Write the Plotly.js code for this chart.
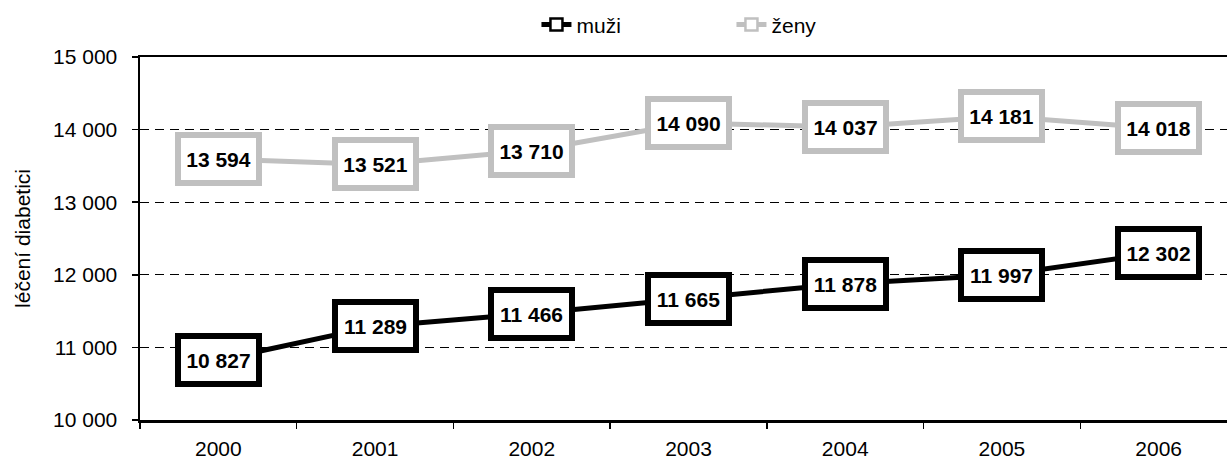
<!DOCTYPE html>
<html>
<head>
<meta charset="utf-8">
<script src="https://cdn.plot.ly/plotly-3.0.1.min.js"></script>
<style>
html,body{margin:0;padding:0;overflow:hidden;background:#fff;width:1227px;height:460px;}
#chart{width:1245px;height:460px;}
</style>
</head>
<body>
<div id="chart"></div>
<script>
const years = ["2000","2001","2002","2003","2004","2005","2006"];
const muzi = [10827, 11289, 11466, 11665, 11878, 11997, 12302];
const zeny = [13594, 13521, 13710, 14090, 14037, 14181, 14018];
const seriesNames = ["muži", "ženy"];
const yTitle = "léčení diabetici";

const BLACK = "#000000";
const GRAY = "#c0c0c0";
const FONT = "Liberation Sans, Arial, sans-serif";

function fmt(v){ return String(v).replace(/\B(?=(\d{3})+(?!\d))/g, " "); }

const traces = [
  {x: years, y: muzi, name: seriesNames[0], type: "scatter", mode: "lines+markers",
   line: {color: BLACK, width: 5},
   marker: {symbol: "square", size: 12, color: "#fff", line: {color: BLACK, width: 2.5}}},
  {x: years, y: zeny, name: seriesNames[1], type: "scatter", mode: "lines+markers",
   line: {color: GRAY, width: 5},
   marker: {symbol: "square", size: 12, color: "#fff", line: {color: GRAY, width: 2.5}}}
];

const annotations = [];
[[muzi, BLACK], [zeny, GRAY]].forEach(([arr, col]) => {
  arr.forEach((v, i) => {
    annotations.push({x: i, y: v, xref: "x", yref: "y", text: "<b>" + fmt(v) + "</b>",
      showarrow: false, font: {family: FONT, size: 21, color: "#000"},
      bgcolor: "#fff", bordercolor: col, borderwidth: 6, borderpad: 2,
      width: 71, height: 38, align: "center", valign: "middle",
      xanchor: "center", yanchor: "middle"});
  });
});

const layout = {
  width: 1245, height: 460,
  margin: {l: 140, r: 8, t: 57, b: 40},
  paper_bgcolor: "#fff", plot_bgcolor: "#fff",
  font: {family: FONT, size: 21, color: "#000"},
  separators: ", ",
  showlegend: true,
  legend: {orientation: "h", xref: "paper", x: 0.3614, xanchor: "left",
    yref: "container", y: 0.946, yanchor: "middle",
    font: {family: FONT, size: 21, color: "#000"}, entrywidth: 150, bgcolor: "rgba(0,0,0,0)"},
  xaxis: {type: "category", range: [-0.5, 6.5], showgrid: false, zeroline: false,
    showline: true, linecolor: "#000", linewidth: 2.5, mirror: true,
    ticks: "outside", tickson: "boundaries", ticklen: 6, tickcolor: "#000", tickwidth: 1.5,
    ticklabelstandoff: 8,
    tickfont: {family: FONT, size: 21, color: "#000"}, fixedrange: true},
  yaxis: {range: [10000, 15000], dtick: 1000, tick0: 10000, tickformat: ",d",
    showgrid: true, gridcolor: "#000", gridwidth: 1, griddash: "9px,6px",
    zeroline: false, showline: true, linecolor: "#000", linewidth: 2.5, mirror: true,
    ticks: "outside", ticklen: 6, tickcolor: "#000", tickwidth: 1.5, ticklabelstandoff: 10,
    tickfont: {family: FONT, size: 21, color: "#000"},
    title: {text: yTitle, font: {family: FONT, size: 21, color: "#000"}, standoff: 17},
    automargin: false, fixedrange: true},
  annotations: annotations
};

Plotly.newPlot("chart", traces, layout, {displayModeBar: false, staticPlot: true});
</script>
</body>
</html>
